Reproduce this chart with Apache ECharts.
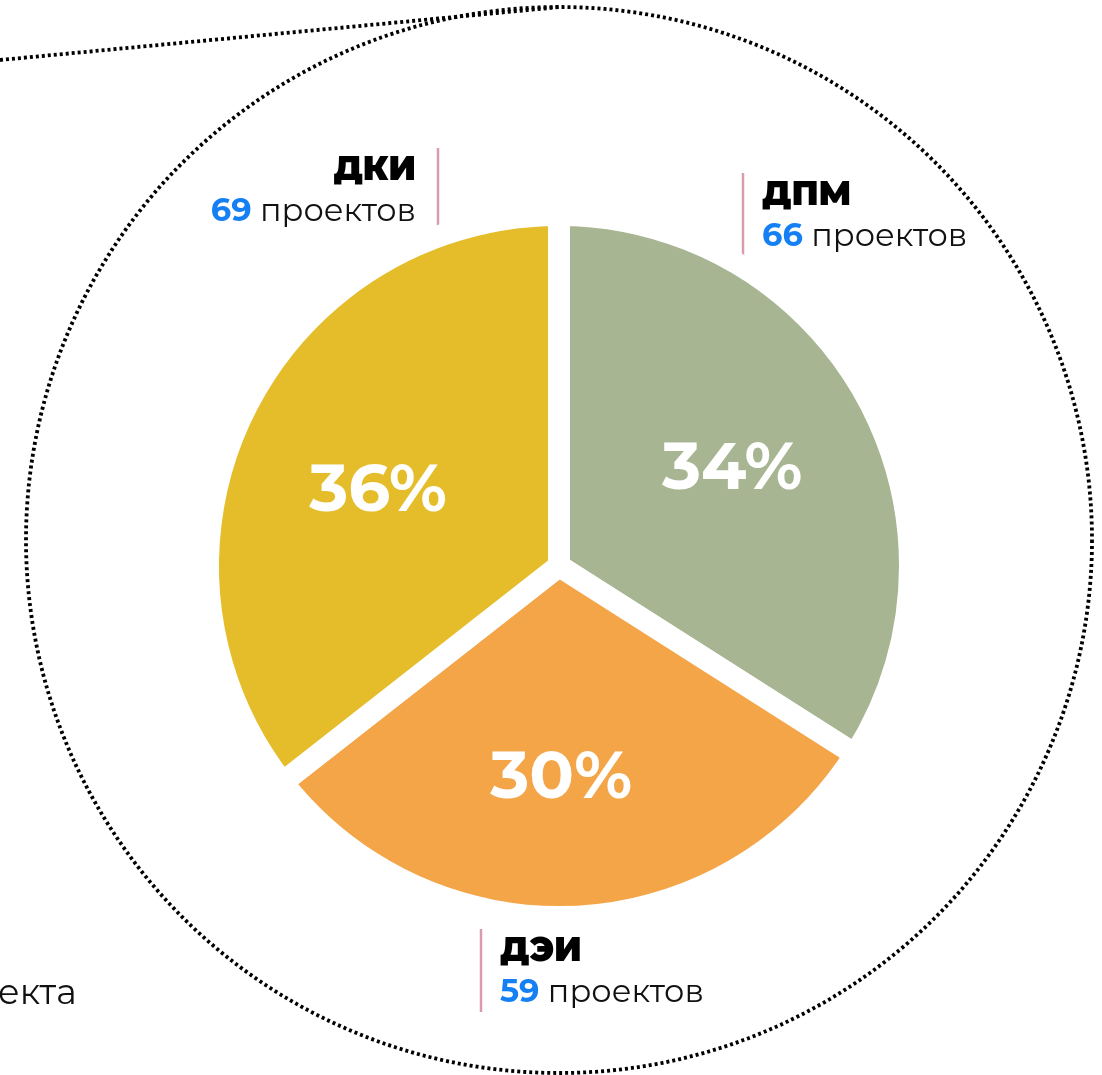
<!DOCTYPE html>
<html>
<head>
<meta charset="utf-8">
<script src="https://cdn.jsdelivr.net/npm/echarts@6/dist/echarts.min.js"></script>
<style>
    html, body { margin: 0; padding: 0; background: #fff; }
    #chart { width: 1102px; height: 1075px; }
</style>
</head>
<body>
<div id="chart"></div>
<script>
'use strict';
// данные по департаментам
var departments = ['ДПМ', 'ДЭИ', 'ДКИ'];
var projectCounts = [66, 59, 69];
var countWord = 'проектов';
var cutText = 'екта';

var sliceColors = ['#a7b592', '#f3a548', '#e5bd2a'];
var font = 'Montserrat, Inter, "Noto Sans", sans-serif';

// положение подписей (левый/правый верхний угол блока текста)
var labelSpots = [
    { x: 762, y: 174, align: 'left' },
    { x: 500, y: 930, align: 'left' },
    { x: 416, y: 149, align: 'right' }
];
// сдвиг процентов внутри секторов
var percentShift = [[-10, 4], [-8, 4], [7, 17]];

var chart = echarts.init(document.getElementById('chart'));

var pieCenter = [559, 566];

var sliceData = departments.map(function (name, i) {
    return { name: name, value: projectCounts[i], itemStyle: { color: sliceColors[i] } };
});

// розовые вертикальные черточки у подписей
var markLines = labelSpots.map(function (s) {
    var lx = s.align === 'right' ? s.x + 22 : s.x - 19;
    return {
        type: 'line',
        shape: { x1: lx, y1: s.y - 1, x2: lx, y2: s.y + 82 },
        style: { stroke: '#d89cad', lineWidth: 2.5 }
    };
});

var dotted = { stroke: '#000', lineWidth: 3.8, lineDash: [3, 3] };

var option = {
    backgroundColor: '#fff',
    animation: false,
    graphic: [
        {
            type: 'circle',
            shape: { cx: 559, cy: 540, r: 533 },
            style: Object.assign({ fill: null }, dotted),
            silent: true
        },
        {
            type: 'line',
            shape: { x1: 0, y1: 60, x2: 560, y2: 7 },
            style: dotted,
            silent: true
        },
        {
            type: 'text',
            left: -2,
            top: 976,
            style: { text: cutText, font: '400 35px ' + font, fill: '#111' }
        }
    ].concat(markLines),
    series: [
        {
            name: 'Проекты',
            type: 'pie',
            center: pieCenter,
            radius: [0, 351],
            startAngle: 90,
            clockwise: true,
            silent: true,
            itemStyle: { borderColor: '#fff', borderWidth: 22, borderJoin: 'miter' },
            labelLine: { show: false },
            label: {
                show: true,
                position: 'outside',
                width: 280,
                overflow: 'none',
                formatter: function (p) {
                    return '{name|' + p.name + '}\n{num|' + p.value + '}{txt| ' + countWord + '}';
                },
                rich: {
                    name: { fontFamily: font, fontSize: 34, fontWeight: 900, color: '#000', lineHeight: 42 },
                    num: { fontFamily: font, fontSize: 32, fontWeight: 700, color: '#1580f4', lineHeight: 42 },
                    txt: { fontFamily: font, fontSize: 32, fontWeight: 400, color: '#111', lineHeight: 42 }
                }
            },
            labelLayout: function (params) {
                var s = labelSpots[params.dataIndex];
                return { x: s.x, y: s.y, align: s.align, verticalAlign: 'top' };
            },
            data: sliceData
        },
        {
            name: 'Доля',
            type: 'pie',
            center: pieCenter,
            radius: [0, 412],
            startAngle: 90,
            clockwise: true,
            silent: true,
            itemStyle: { color: 'rgba(0,0,0,0)' },
            labelLine: { show: false },
            label: {
                show: true,
                position: 'inside',
                formatter: function (p) {
                    return Math.round(p.percent) + '%';
                },
                fontFamily: font,
                fontSize: 66,
                fontWeight: 700,
                color: '#fff'
            },
            labelLayout: function (params) {
                var r = params.labelRect;
                var d = percentShift[params.dataIndex];
                return {
                    x: r.x + r.width / 2 + d[0],
                    y: r.y + r.height / 2 + d[1],
                    align: 'center',
                    verticalAlign: 'middle'
                };
            },
            data: departments.map(function (name, i) {
                return { name: name, value: projectCounts[i] };
            })
        }
    ]
};

chart.setOption(option);
</script>
</body>
</html>
